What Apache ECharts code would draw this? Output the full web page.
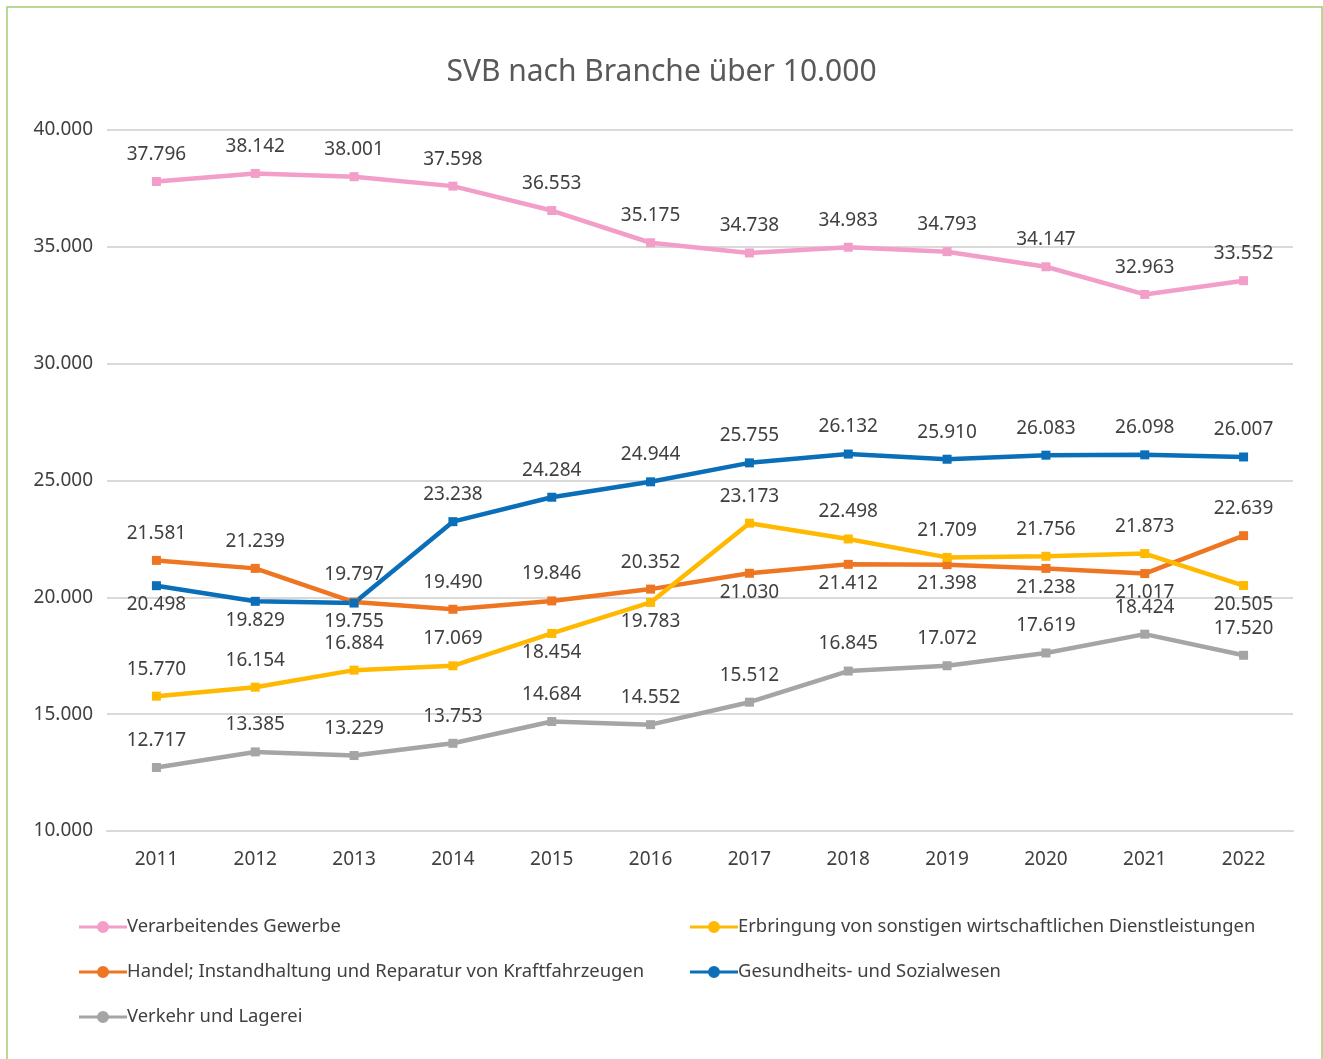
<!DOCTYPE html>
<html>
<head>
<meta charset="utf-8">
<script src="https://cdn.jsdelivr.net/npm/echarts@6/dist/echarts.min.js"></script>
<style>
  html, body { margin: 0; padding: 0; background: #fff; }
  #chart { width: 1323px; height: 1059px; }
</style>
</head>
<body>
<div id="chart"></div>
<script>
const years = ['2011', '2012', '2013', '2014', '2015', '2016', '2017', '2018', '2019', '2020', '2021', '2022'];

const verarbeitendes = [37796, 38142, 38001, 37598, 36553, 35175, 34738, 34983, 34793, 34147, 32963, 33552];
const handel = [21581, 21239, 19797, 19490, 19846, 20352, 21030, 21412, 21398, 21238, 21017, 22639];
const verkehr = [12717, 13385, 13229, 13753, 14684, 14552, 15512, 16845, 17072, 17619, 18424, 17520];
const dienstleistungen = [15770, 16154, 16884, 17069, 18454, 19783, 23173, 22498, 21709, 21756, 21873, 20505];
const gesundheit = [20498, 19829, 19755, 23238, 24284, 24944, 25755, 26132, 25910, 26083, 26098, 26007];

// where each value label sits: t = above the point, b = below
const placeVerarbeitendes = 'tttttttttttt';
const placeHandel = 'ttttttbbbbbt';
const placeVerkehr = 'tttttttttttt';
const placeDienst = 'ttttbbtttttb';
const placeGesundheit = 'bbbttttttttt';

const fontFamily = '"Noto Sans", sans-serif';
const textColor = '#404040';

const fmt = v => {
  const s = String(Math.round(v));
  return s.replace(/\B(?=(\d{3})+(?!\d))/g, '.');
};

function makeSeries(name, values, places, color) {
  return {
    name: name,
    type: 'line',
    data: values.map((v, i) => {
      const top = places[i] === 't';
      return {
        value: v,
        label: { position: top ? 'top' : 'bottom', distance: top ? 13 : 5 }
      };
    }),
    symbol: 'rect',
    symbolSize: 9,
    lineStyle: { color: color, width: 4.5 },
    itemStyle: { color: color },
    label: {
      show: true,
      formatter: p => fmt(p.value),
      color: textColor,
      fontFamily: fontFamily,
      fontSize: 19
    },
    emphasis: { disabled: true },
    animation: false
  };
}

const legendIcon = 'path://M0,7.5h48v3h-48z M18,9a6,6 0 1,1 12,0a6,6 0 1,1 -12,0z';

const legendBase = {
  orient: 'vertical',
  top: 913,
  itemGap: 27,
  itemWidth: 48,
  itemHeight: 24,
  icon: legendIcon,
  textStyle: { fontFamily: fontFamily, fontSize: 18.4, color: textColor, padding: [0, 0, 0, -5] }
};

const chart = echarts.init(document.getElementById('chart'));
chart.setOption({
  backgroundColor: '#fff',
  title: {
    text: 'SVB nach Branche über 10.000',
    left: 'center',
    top: 52,
    textStyle: { fontFamily: fontFamily, fontSize: 30, fontWeight: 'normal', color: '#595959' }
  },
  graphic: [{
    type: 'rect',
    shape: { x: 7, y: 7, width: 1315, height: 1060 },
    style: { fill: 'none', stroke: '#a3cf6e', lineWidth: 1.5 },
    silent: true
  }],
  grid: { left: 107, right: 30, top: 130, bottom: 228 },
  legend: [
    Object.assign({}, legendBase, {
      data: ['Verarbeitendes Gewerbe', 'Handel; Instandhaltung und Reparatur von Kraftfahrzeugen', 'Verkehr und Lagerei'],
      left: 74
    }),
    Object.assign({}, legendBase, {
      data: ['Erbringung von sonstigen wirtschaftlichen Dienstleistungen', 'Gesundheits- und Sozialwesen'],
      left: 685
    })
  ],
  xAxis: {
    type: 'category',
    data: years,
    boundaryGap: true,
    axisLine: { show: true, lineStyle: { color: '#d9d9d9', width: 2 } },
    axisTick: { show: false },
    axisLabel: { color: textColor, fontFamily: fontFamily, fontSize: 19, margin: 19 }
  },
  yAxis: {
    type: 'value',
    min: 10000,
    max: 40000,
    interval: 5000,
    axisLine: { show: false },
    axisTick: { show: false },
    splitLine: { lineStyle: { color: '#d9d9d9', width: 2 } },
    axisLabel: { color: textColor, fontFamily: fontFamily, fontSize: 19, margin: 14, formatter: fmt }
  },
  series: [
    makeSeries('Verarbeitendes Gewerbe', verarbeitendes, placeVerarbeitendes, '#f29ec8'),
    makeSeries('Handel; Instandhaltung und Reparatur von Kraftfahrzeugen', handel, placeHandel, '#ee7623'),
    makeSeries('Verkehr und Lagerei', verkehr, placeVerkehr, '#a5a5a5'),
    makeSeries('Erbringung von sonstigen wirtschaftlichen Dienstleistungen', dienstleistungen, placeDienst, '#ffb900'),
    makeSeries('Gesundheits- und Sozialwesen', gesundheit, placeGesundheit, '#0a6fb8')
  ]
});
</script>
</body>
</html>
